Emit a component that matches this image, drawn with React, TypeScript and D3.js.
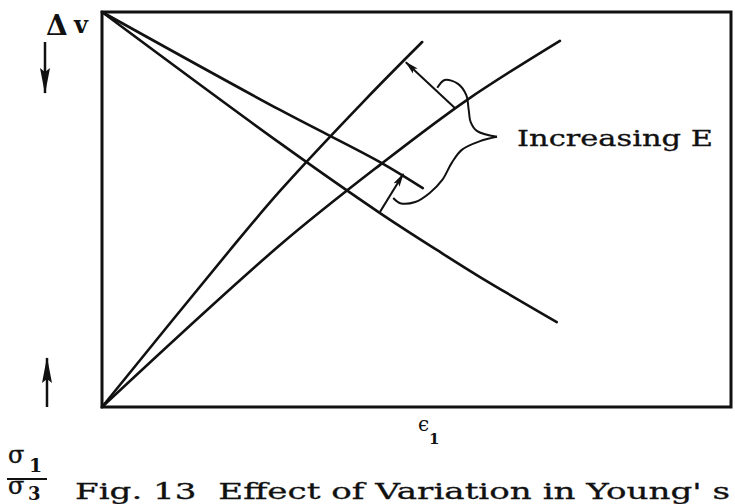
import React from 'react';
import * as d3 from 'd3';

type P = [number, number];

// schematic axes (ε1 horizontal, σ1/σ3 up and Δv down)
const xDomain: P = [0, 100];
const yDomain: P = [0, 100];

// stress-ratio curves (rising)
const stressHighE: P[] = [[0, 0], [20.35, 39.75], [28.3, 54.7], [41.8, 77.7], [50.9, 92.4]];
const stressLowE: P[] = [[0, 0], [28.3, 41.0], [44.2, 61.3], [58.0, 77.7], [72.8, 92.7]];
// volume-change curves (falling)
const volumeHighE: P[] = [[0, 100], [28.3, 75.2], [44.2, 62.0], [51.0, 55.4]];
const volumeLowE: P[] = [[0, 100], [28.3, 66.8], [44.2, 49.1], [53.3, 39.7], [60.1, 32.9], [72.3, 21.5]];

// "increasing E" arrows
const arrowStress: P[] = [[56.1, 75.7], [48.3, 87.3]];
const arrowVolume: P[] = [[44.2, 49.4], [47.9, 59.0]];

// brace
const braceUpper: P[] = [[53.3, 80.8], [54.5, 82.8], [56.6, 81.8], [57.9, 79.0], [58.3, 75.2], [58.6, 72.2], [59.6, 69.9], [62.8, 68.4]];
const braceLower: P[] = [[62.8, 68.4], [60.1, 67.3], [57.2, 65.1], [55.6, 61.8], [54.1, 57.5], [52.1, 54.2], [49.8, 51.9], [47.4, 51.6], [46.3, 52.9]];

const braceLabel = 'Increasing E';
const caption = "Fig. 13  Effect of Variation in Young' s";

export default function App() {
  const W = 735, H = 504;
  const x = d3.scaleLinear().domain(xDomain).range([102, 731]);
  const y = d3.scaleLinear().domain(yDomain).range([407, 12]);
  const curve = d3.line<P>().x(d => x(d[0])).y(d => y(d[1])).curve(d3.curveCatmullRom.alpha(0.5));
  const straight = d3.line<P>().x(d => x(d[0])).y(d => y(d[1]));
  const font = '"DejaVu Serif", "Liberation Serif", serif';
  const ink = '#111';

  return (
    <svg width={W} height={H} style={{ position: 'absolute', left: 0, top: 0, background: '#fff' }}>
      <defs>
        <marker id="ah" viewBox="0 0 14 8" refX="13" refY="4" markerWidth="14" markerHeight="8" markerUnits="userSpaceOnUse" orient="auto">
          <path d="M0,0.5 L14,4 L0,7.5 L3,4 Z" fill={ink} />
        </marker>
        <marker id="ahBig" viewBox="0 0 26 10" refX="25" refY="5" markerWidth="26" markerHeight="10" markerUnits="userSpaceOnUse" orient="auto">
          <path d="M0,0 L26,5 L0,10 L4,5 Z" fill={ink} />
        </marker>
      </defs>
      <rect x={x(0)} y={y(100)} width={x(100) - x(0)} height={y(0) - y(100)} fill="none" stroke={ink} strokeWidth={3} />
      {[stressHighE, stressLowE, volumeHighE, volumeLowE].map((d, i) => (
        <path key={i} d={curve(d) || ''} fill="none" stroke={ink} strokeWidth={2.6} strokeLinecap="round" />
      ))}
      {[arrowStress, arrowVolume].map((d, i) => (
        <path key={'a' + i} d={straight(d) || ''} fill="none" stroke={ink} strokeWidth={2} markerEnd="url(#ah)" />
      ))}
      <path d={curve(braceUpper) || ''} fill="none" stroke={ink} strokeWidth={2} />
      <path d={curve(braceLower) || ''} fill="none" stroke={ink} strokeWidth={2} />
      <text x={517} y={146} fontFamily={font} fontSize={22} textLength={196} lengthAdjust="spacingAndGlyphs" fill={ink} stroke={ink} strokeWidth={0.3}>{braceLabel}</text>

      {/* Δv label and arrow */}
      <text x={46} y={35} fontFamily={font} fontSize={28} fontWeight="bold" fill={ink}>Δ</text>
      <text x={74} y={33} fontFamily={font} fontSize={24} fontWeight="bold" fill={ink}>v</text>
      <line x1={45} y1={42} x2={45} y2={93} stroke={ink} strokeWidth={2.5} markerEnd="url(#ahBig)" />

      {/* σ1/σ3 label and arrow */}
      <line x1={47} y1={407} x2={47} y2={358} stroke={ink} strokeWidth={2.5} markerEnd="url(#ahBig)" />
      <text x={8} y={463} fontFamily={font} fontSize={24} fill={ink} stroke={ink} strokeWidth={0.4}>σ</text>
      <text x={29} y={472} fontFamily={font} fontSize={19} fontWeight="bold" fill={ink}>1</text>
      <line x1={7} y1={479} x2={47} y2={479} stroke={ink} strokeWidth={2} />
      <text x={8} y={494} fontFamily={font} fontSize={24} fill={ink} stroke={ink} strokeWidth={0.4}>σ</text>
      <text x={28} y={500} fontFamily={font} fontSize={18} fontWeight="bold" fill={ink}>3</text>

      {/* ε1 */}
      <text x={418} y={431} fontFamily={font} fontSize={20} fill={ink}>ϵ</text>
      <text x={429} y={444} fontFamily={font} fontSize={15} fontWeight="bold" fill={ink}>1</text>

      <text x={75} y={499} fontFamily={font} fontSize={22} textLength={655} lengthAdjust="spacingAndGlyphs" fill={ink} stroke={ink} strokeWidth={0.3} style={{ whiteSpace: 'pre' }}>{caption}</text>
    </svg>
  );
}
